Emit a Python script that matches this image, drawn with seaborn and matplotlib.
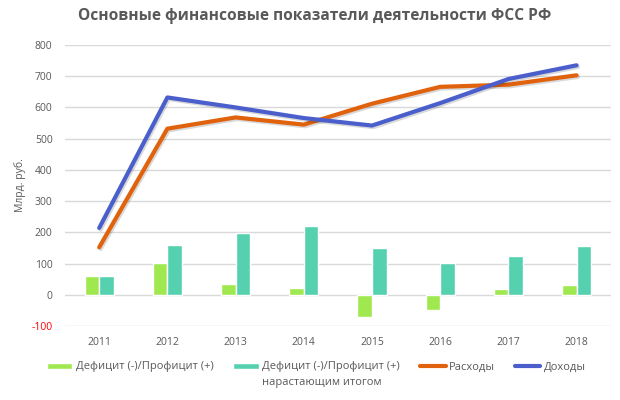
import numpy as np
import pandas as pd
import matplotlib.pyplot as plt
import seaborn as sns
from matplotlib.patches import Patch
from matplotlib.lines import Line2D
import matplotlib.patheffects as pe

years = ['2011', '2012', '2013', '2014', '2015', '2016', '2017', '2018']
deficit = [61, 101, 35, 23, -72, -48, 19, 32]
deficit_cum = [61, 158, 198, 221, 150, 101, 125, 155]
expenses = [152, 532, 568, 545, 612, 666, 673, 703]
incomes = [214, 632, 600, 566, 542, 614, 691, 735]

lbl_def = 'Дефицит (-)/Профицит (+)'
lbl_cum = 'Дефицит (-)/Профицит (+)'
lbl_cum2 = 'нарастающим итогом'
lbl_exp = 'Расходы'
lbl_inc = 'Доходы'

c_def = '#A0E84F'
c_cum = '#55D1AF'
c_exp = '#E0620D'
c_inc = '#4A5FCC'
txt = '#595959'

sns.set_style('white')
plt.rcParams['font.family'] = ['Open Sans', 'DejaVu Sans']
plt.rcParams['axes.unicode_minus'] = False

bars = pd.DataFrame({
    'year': years * 2,
    'value': deficit + deficit_cum,
    'series': ['def'] * len(years) + ['cum'] * len(years),
})

fig = plt.figure(figsize=(6.2, 4), dpi=100)
ax = fig.add_axes([0.105, 0.185, 0.88, 0.7025])

sns.barplot(data=bars, x='year', y='value', hue='series',
            palette=[c_def, c_cum], saturation=1, width=0.43, gap=0,
            legend=False, ax=ax, zorder=3)

pos = np.arange(len(years))
shadow = [pe.SimpleLineShadow(offset=(1, -1.2), alpha=0.15), pe.Normal()]
sns.lineplot(x=pos, y=expenses, color=c_exp, lw=3, ax=ax, zorder=4,
             solid_capstyle='round', path_effects=shadow)
sns.lineplot(x=pos, y=incomes, color=c_inc, lw=3, ax=ax, zorder=5,
             solid_capstyle='round', path_effects=shadow)

ax.set_xlim(-0.5, len(years) - 0.5)
ax.set_ylim(-100, 800)
ax.set_yticks(range(-100, 801, 100))
ax.yaxis.grid(True, color='#D9D9D9', lw=1)
ax.set_axisbelow(True)
for s in ax.spines.values():
    s.set_visible(False)
ax.tick_params(axis='both', length=0, labelsize=7.5, labelcolor=txt, pad=8)
ax.tick_params(axis='y', pad=9)
for t in ax.get_yticklabels():
    if t.get_text().replace('−', '-') == '-100':
        t.set_color('red')
ax.set_xlabel('')
ax.set_ylabel('Млрд. руб.', fontsize=7.5, color=txt, labelpad=4)

fig.suptitle('Основные финансовые показатели деятельности ФСС РФ',
             x=0.508, y=0.98, fontsize=11.2, fontweight='bold', color=txt)

handles = [
    Patch(facecolor=c_def, label=lbl_def),
    Patch(facecolor=c_cum, label=lbl_cum),
    Line2D([], [], color=c_exp, lw=3, solid_capstyle='round', label=lbl_exp),
    Line2D([], [], color=c_inc, lw=3, solid_capstyle='round', label=lbl_inc),
]
leg = fig.legend(handles=handles, loc='center', bbox_to_anchor=(0.51, 0.0825),
                 ncol=4, frameon=False, fontsize=8, handlelength=2.3,
                 handleheight=0.45, handletextpad=0.3, columnspacing=1.8,
                 borderaxespad=0, borderpad=0)
for t in leg.get_texts():
    t.set_color(txt)

# second line of the cumulative label, aligned under its first line
fig.canvas.draw()
bb = leg.get_texts()[1].get_window_extent()
fig.text(bb.x0 / fig.bbox.width, 1 - 382 / 400, lbl_cum2,
         fontsize=8, color=txt, va='center', ha='left')

fig.savefig('out.png', dpi=100)
